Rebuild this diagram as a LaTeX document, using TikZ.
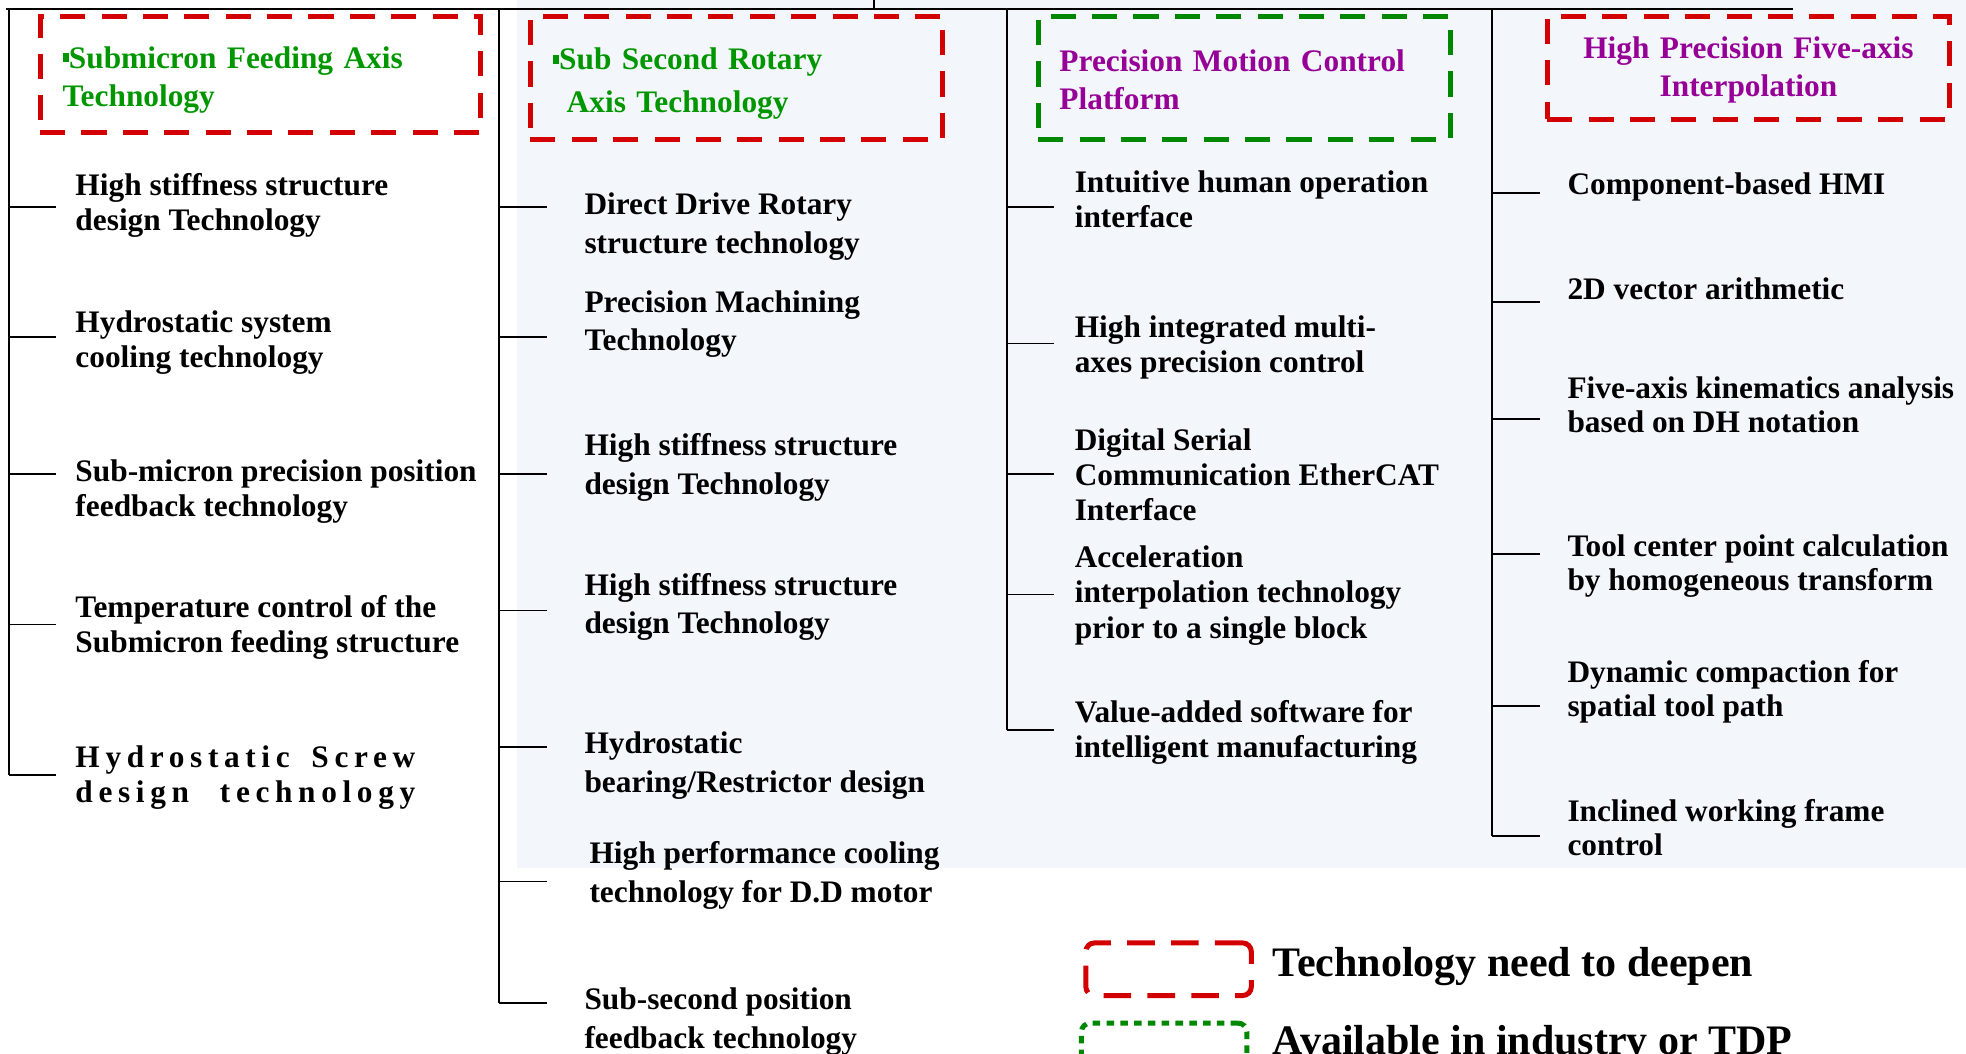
\documentclass[tikz,border=0pt]{standalone}
\usepackage{fontspec}
\setmainfont{Liberation Serif}
\newfontfamily\spacedfont[LetterSpace=18]{Liberation Serif}
\usepackage{xcolor}
\definecolor{mydarkred}{RGB}{210,0,0}
\definecolor{mydarkgreen}{RGB}{0,135,0}
\definecolor{mytextgreen}{RGB}{0,150,0}
\definecolor{mypurple}{RGB}{150,0,150}
\definecolor{mybg}{RGB}{243,246,251}
\newcommand{\widthtick}{38}
\newcommand{\sqmark}{\rule[5pt]{5pt}{7pt}}
\tikzset{
    common/.style={anchor=west, inner sep=0pt, align=left},
    item/.style={common, font=\bfseries\fontsize{25}{28}\selectfont},
    looseitem/.style={common, font=\bfseries\fontsize{25}{31}\selectfont},
    tightitem/.style={common, font=\bfseries\fontsize{25}{27}\selectfont},
    spaceditem/.style={common, font=\spacedfont\bfseries\fontsize{25}{28}\selectfont},
    bus/.style={line width=1.3pt},
    header/.style={line width=4pt, dash pattern=on 20pt off 13pt, inner ysep=0pt},
    redbox/.style={header, draw=mydarkred},
    greenbox/.style={header, draw=mydarkgreen},
    legendbox/.style={line width=4pt, rounded corners=7pt, minimum width=132pt, minimum height=42pt},
    legendtext/.style={anchor=west, inner sep=0pt, font=\bfseries\fontsize{33.5}{38}\selectfont}
}
\begin{document}
\begin{tikzpicture}[x=1pt, y=-1pt]
    \useasboundingbox (0,0) rectangle (1568,840);
    \clip (0,0) rectangle (1568,840);
    \fill[mybg] (412,0) rectangle (1568,692);

    \coordinate (root) at (697,7);
    \coordinate (topleft) at (5,7);
    \coordinate (topright) at (1430,7);
    \draw[line width=1.8pt] (topleft) -- (topright);
    \draw[bus] (root) -- ++(0,-8);
    \foreach \bx/\by [count=\c] in {7/618, 398/800, 803/582, 1190/667} {
        \coordinate (bus\c) at (\bx,7);
        \coordinate (foot\c) at (\bx,\by);
        \draw[bus] (bus\c) -- (foot\c);
    }

    \node[redbox, text=mytextgreen, font=\bfseries\fontsize{25}{31}\selectfont, align=left,
        text width=315pt, inner xsep=18pt, minimum height=93pt] (head1) at (207.5,59.5)
        {\rule{0pt}{26pt}\sqmark Submicron Feeding Axis\\Technology};
    \node[redbox, text=mytextgreen, font=\bfseries\fontsize{25}{34}\selectfont, align=left,
        text width=293pt, inner xsep=18pt, minimum height=98pt] (head2) at (587.5,62)
        {\rule{0pt}{27pt}\sqmark Sub Second Rotary\\\hspace*{11pt}Axis Technology};
    \node[greenbox, text=mypurple, font=\bfseries\fontsize{25}{30}\selectfont, align=left,
        text width=295pt, inner xsep=17pt, minimum height=98pt] (head3) at (992.5,62)
        {\rule{0pt}{21pt}Precision Motion Control\\Platform};
    \node[redbox, text=mypurple, font=\bfseries\fontsize{25}{31}\selectfont, align=center,
        text width=285pt, inner xsep=18pt, minimum height=82pt] (head4) at (1394.5,54)
        {\rule{0pt}{21pt}High Precision Five-axis\\Interpolation};

    \foreach \ty [count=\i] in {165,269,378,498,618}
        \draw[bus] (7,\ty) coordinate (tick1-\i) -- ++(\widthtick,0);
    \foreach \ty/\txt [count=\i] in {164/{High stiffness structure\\design Technology},
            273/{Hydrostatic system\\cooling technology},
            392/{Sub-micron precision position\\feedback technology},
            500.5/{Temperature control of the\\Submicron feeding structure}}
        \node[item] (item1-\i) at (60,\ty) {\txt};
    \node[spaceditem] (item1-5) at (60,620)
        {\makebox[271pt][s]{Hydrostatic Screw}\\\makebox[271pt][s]{design technology}};

    \foreach \ty [count=\i] in {165,269,378,487,596,703,800}
        \draw[bus] (398,\ty) coordinate (tick2-\i) -- ++(\widthtick,0);
    \foreach \ty/\txt [count=\i] in {180.5/{Direct Drive Rotary\\structure technology},
            258.5/{Precision Machining\\Technology},
            372.5/{High stiffness structure\\design Technology},
            484/{High stiffness structure\\design Technology},
            610.5/{Hydrostatic\\bearing/Restrictor design}}
        \node[looseitem] (item2-\i) at (466,\ty) {\txt};
    \node[looseitem] (item2-6) at (470,698) {High performance cooling\\technology for D.D motor};
    \node[looseitem] (item2-7) at (466,815) {Sub-second position\\feedback technology};

    \foreach \ty [count=\i] in {165,274,378,474,582}
        \draw[bus] (803,\ty) coordinate (tick3-\i) -- ++(\widthtick,0);
    \foreach \ty/\txt [count=\i] in {159/{Intuitive human operation\\interface},
            277/{High integrated multi-\\axes precision control},
            378.5/{Digital Serial\\Communication EtherCAT\\Interface},
            475/{Acceleration\\interpolation technology\\prior to a single block},
            584/{Value-added software for\\intelligent manufacturing}}
        \node[item] (item3-\i) at (857,\ty) {\txt};

    \foreach \ty [count=\i] in {154,241,334,442,563,667}
        \draw[bus] (1190,\ty) coordinate (tick4-\i) -- ++(\widthtick,0);
    \foreach \ty/\txt [count=\i] in {149/{Component-based HMI},
            230/{2D vector arithmetic},
            322.5/{Five-axis kinematics analysis\\based on DH notation},
            451.5/{Tool center point calculation\\by homogeneous transform},
            552/{Dynamic compaction for\\spatial tool path},
            660/{Inclined working frame\\control}}
        \node[tightitem] (item4-\i) at (1250,\ty) {\txt};

    \node[legendbox, draw=mydarkred, dash pattern=on 22pt off 13pt] (keyred) at (932,773) {};
    \node[legendtext] (keyredtext) at (1015,771) {Technology need to deepen};
    \node[legendbox, draw=mydarkgreen, dash pattern=on 6pt off 5pt] (keygreen) at (928.5,837) {};
    \node[legendtext] (keygreentext) at (1015,833) {Available in industry or TDP};
\end{tikzpicture}
\end{document}
